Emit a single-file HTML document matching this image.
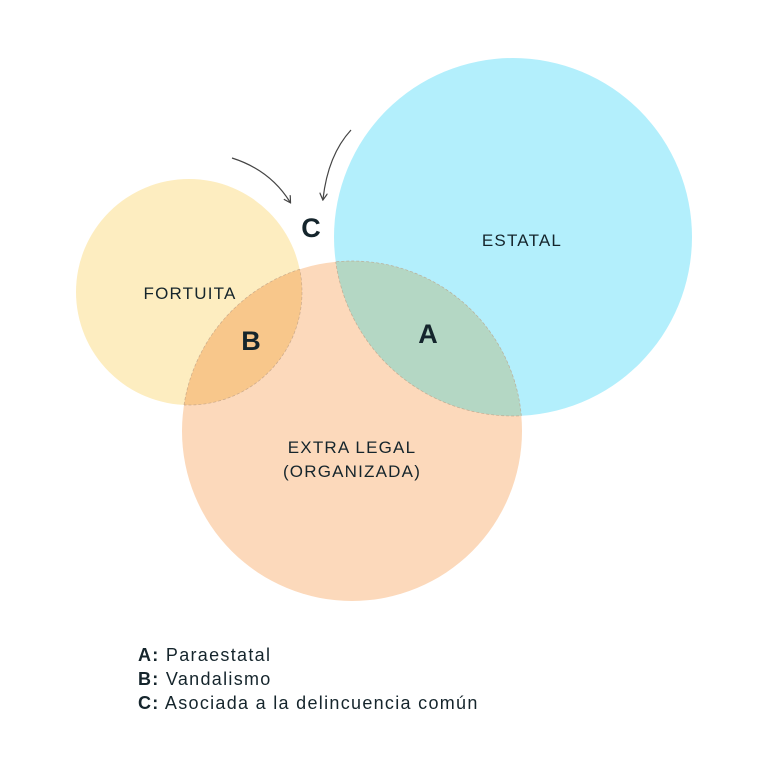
<!DOCTYPE html>
<html><head><meta charset="utf-8"><style>
html,body{margin:0;padding:0;background:#fff;}
svg{display:block;}
text{font-family:"Liberation Sans",sans-serif;fill:#15252c;}
</style></head><body>
<svg width="768" height="768" viewBox="0 0 768 768" xmlns="http://www.w3.org/2000/svg">
<defs>
<clipPath id="cy"><circle cx="189" cy="292" r="113"/></clipPath>
<clipPath id="cb"><circle cx="513" cy="237" r="179"/></clipPath>
<clipPath id="co"><circle cx="352" cy="431" r="170"/></clipPath>
<marker id="ah" markerWidth="8" markerHeight="8" refX="6" refY="4" orient="auto" markerUnits="userSpaceOnUse">
<path d="M0,0 L7,4 L0,8" fill="none" stroke="#444" stroke-width="1.2"/></marker>
</defs>
<circle cx="189" cy="292" r="113" fill="#fdedc0"/>
<circle cx="513" cy="237" r="179" fill="#b3effc"/>
<circle cx="352" cy="431" r="170" fill="#fcd9bb"/>
<circle cx="352" cy="431" r="170" fill="#f8c78b" clip-path="url(#cy)"/>
<circle cx="352" cy="431" r="170" fill="#b4d7c4" clip-path="url(#cb)"/>
<g fill="none" stroke="#b89a80" stroke-width="0.7" stroke-dasharray="3,2" opacity="0.7">
<circle cx="352" cy="431" r="170" clip-path="url(#cy)"/>
<circle cx="352" cy="431" r="170" clip-path="url(#cb)"/>
<circle cx="189" cy="292" r="113" clip-path="url(#co)"/>
<circle cx="513" cy="237" r="179" clip-path="url(#co)"/>
</g>
<path d="M232,158 Q270,170 290,202" fill="none" stroke="#444" stroke-width="1.2" marker-end="url(#ah)"/>
<path d="M351,130 Q328,155 323,199" fill="none" stroke="#444" stroke-width="1.2" marker-end="url(#ah)"/>
<text x="311" y="237" font-size="27" font-weight="bold" text-anchor="middle">C</text>
<text x="251" y="350" font-size="27" font-weight="bold" text-anchor="middle">B</text>
<text x="428" y="343" font-size="27" font-weight="bold" text-anchor="middle">A</text>
<text x="190" y="299" font-size="17" letter-spacing="1.2" text-anchor="middle">FORTUITA</text>
<text x="522" y="246" font-size="17" letter-spacing="1.2" text-anchor="middle">ESTATAL</text>
<text x="352" y="453" font-size="17" letter-spacing="1.2" text-anchor="middle">EXTRA LEGAL</text>
<text x="352" y="477" font-size="17" letter-spacing="1.2" text-anchor="middle">(ORGANIZADA)</text>
<g font-size="18" letter-spacing="1.3">
<text x="138" y="661"><tspan font-weight="bold">A:</tspan> Paraestatal</text>
<text x="138" y="685"><tspan font-weight="bold">B:</tspan> Vandalismo</text>
<text x="138" y="709"><tspan font-weight="bold">C:</tspan> Asociada a la delincuencia común</text>
</g>
</svg>
</body></html>
